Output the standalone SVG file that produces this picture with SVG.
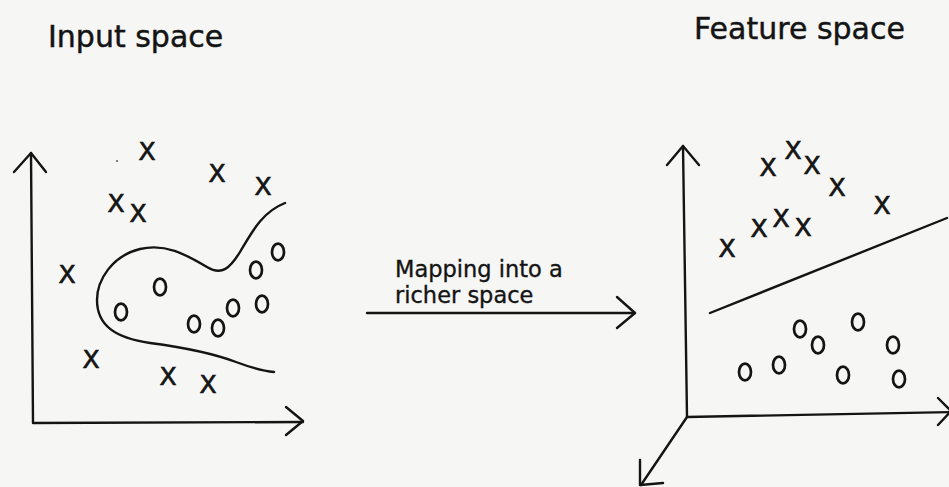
<svg xmlns="http://www.w3.org/2000/svg" width="949" height="487" viewBox="0 0 949 487">
<style>
.t{font-family:"DejaVu Sans","Liberation Sans",sans-serif;fill:#141414;stroke:#141414;stroke-width:0.45}
.title{font-size:30px}
.lbl{font-size:22.5px;stroke-width:0.35}
.x{font-size:25px;text-anchor:middle;stroke-width:0.7}
.ln{fill:none;stroke:#141414;stroke-width:2.4;stroke-linecap:round;stroke-linejoin:round}
.o{fill:none;stroke:#141414;stroke-width:2.7}
</style>
<rect width="949" height="487" fill="#f6f6f4"/>
<g id="input-space">
  <text class="t title" x="48" y="47">Input space</text>
  <g id="input-axes">
    <path class="ln" d="M31,153 L33,423 L303,422"/>
    <path class="ln" d="M14,172 L31,153 L46,172"/>
    <path class="ln" d="M286,407 L303,421 L286,435"/>
  </g>
  <path id="input-boundary" class="ln" d="M285,203 C262,212 252,232 240,252 C230,268 222,276 207,267 C185,254 165,243 140,249 C112,256 97,280 97,300 C97,326 116,338 150,343 C188,348 212,353 236,362 C252,368 262,371 274,372"/>
  <circle cx="117" cy="161" r="1" fill="#555"/>
  <g id="input-x">
    <text class="t x" x="147" y="160">X</text>
    <text class="t x" x="217" y="182">X</text>
    <text class="t x" x="263" y="195">X</text>
    <text class="t x" x="116" y="212">X</text>
    <text class="t x" x="138" y="222">X</text>
    <text class="t x" x="67" y="283">X</text>
    <text class="t x" x="91" y="368">X</text>
    <text class="t x" x="168" y="385">X</text>
    <text class="t x" x="208" y="393">X</text>
  </g>
  <g id="input-o">
    <ellipse class="o" cx="278" cy="252" rx="6" ry="8.3"/>
    <ellipse class="o" cx="256" cy="270" rx="6" ry="8.3"/>
    <ellipse class="o" cx="160" cy="287" rx="6" ry="8.3"/>
    <ellipse class="o" cx="121" cy="312" rx="6" ry="8.3"/>
    <ellipse class="o" cx="194" cy="324" rx="6" ry="8.3"/>
    <ellipse class="o" cx="218" cy="328" rx="6" ry="8.3"/>
    <ellipse class="o" cx="233" cy="308" rx="6" ry="8.3"/>
    <ellipse class="o" cx="262" cy="304" rx="6" ry="8.3"/>
  </g>
</g>
<g id="connectors">
  <g id="mapping-arrow">
    <path class="ln" d="M367,313 L635,313"/>
    <path class="ln" d="M617,297 L635,313 L617,328"/>
  </g>
</g>
<g id="mapping-label">
  <text class="t lbl" x="395" y="277">Mapping into a</text>
  <text class="t lbl" x="395" y="303">richer space</text>
</g>
<g id="feature-space">
  <text class="t title" x="694" y="39">Feature space</text>
  <g id="feature-axes">
    <path class="ln" d="M683,146 L687,417 L955,412"/>
    <path class="ln" d="M667,165 L683,146 L699,165"/>
    <path class="ln" d="M938,398 L951,411 L938,425"/>
    <path class="ln" d="M687,417 L641,485"/>
    <path class="ln" d="M640,460 L640,485 L663,483"/>
  </g>
  <path id="feature-separator" class="ln" d="M710,313 L947,218"/>
  <g id="feature-x">
    <text class="t x" x="768" y="176">X</text>
    <text class="t x" x="793" y="159">X</text>
    <text class="t x" x="812" y="174">X</text>
    <text class="t x" x="837" y="196">X</text>
    <text class="t x" x="882" y="214">X</text>
    <text class="t x" x="759" y="237">X</text>
    <text class="t x" x="781" y="227">X</text>
    <text class="t x" x="803" y="236">X</text>
    <text class="t x" x="727" y="257">X</text>
  </g>
  <g id="feature-o">
    <ellipse class="o" cx="745" cy="372" rx="6" ry="8.3"/>
    <ellipse class="o" cx="779" cy="365" rx="6" ry="8.3"/>
    <ellipse class="o" cx="800" cy="329" rx="6" ry="8.3"/>
    <ellipse class="o" cx="818" cy="345" rx="6" ry="8.3"/>
    <ellipse class="o" cx="858" cy="322" rx="6" ry="8.3"/>
    <ellipse class="o" cx="843" cy="375" rx="6" ry="8.3"/>
    <ellipse class="o" cx="893" cy="345" rx="6" ry="8.3"/>
    <ellipse class="o" cx="899" cy="379" rx="6" ry="8.3"/>
  </g>
</g>
</svg>
